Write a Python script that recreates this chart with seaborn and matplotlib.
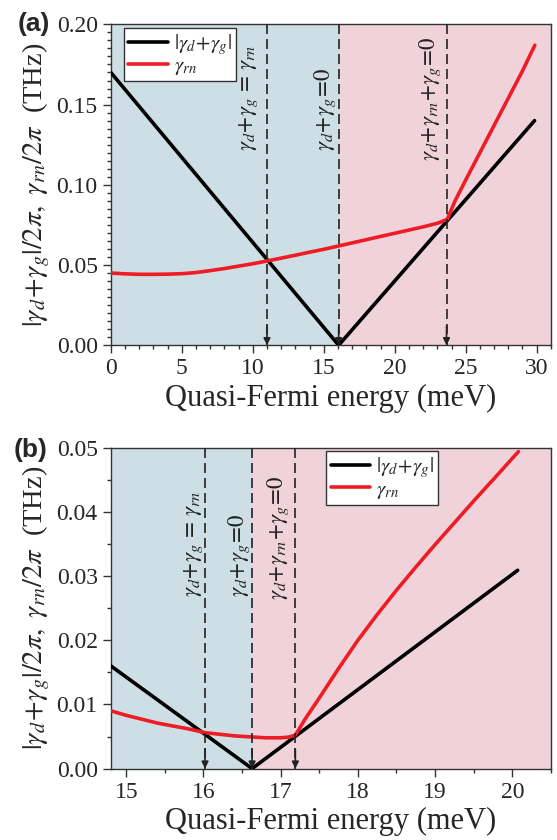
import numpy as np
import pandas as pd
import matplotlib
matplotlib.use("Agg")
import matplotlib.pyplot as plt
from matplotlib.ticker import MultipleLocator, FormatStrFormatter
import seaborn as sns

# panel (a) data
a_black_x = [0, 16.05, 29.85]
a_black_y = [0.170, 0.0, 0.140]
a_red_x = [0, 1, 2, 3, 4, 5, 6, 7, 8, 9, 10, 11, 12, 13, 14, 15, 16, 17, 18, 19, 20,
           21, 22, 23, 23.7, 24.25, 25, 26, 27, 28, 29, 29.87]
a_red_y = [0.045, 0.0445, 0.0442, 0.0442, 0.0443, 0.0446, 0.0453, 0.0465, 0.0478, 0.0493,
           0.0508, 0.0525, 0.0543, 0.0561, 0.0580, 0.0598, 0.0618, 0.0638, 0.0658, 0.0678,
           0.0698, 0.0718, 0.0738, 0.0760, 0.0785, 0.0900, 0.1030, 0.1200, 0.1370, 0.1540,
           0.1710, 0.1870]
a_lines = [11.0, 16.05, 23.65]
a_split = 16.05

# panel (b) data
b_black_x = [14.8, 16.63, 20.07]
b_black_y = [0.0160, 0.0, 0.0309]
b_red_x = [14.8, 15.0, 15.4, 15.8, 16.02, 16.4, 16.8, 17.0, 17.1, 17.19, 17.31, 17.5,
           17.75, 18.0, 18.25, 18.5, 18.75, 19.0, 19.25, 19.5, 19.75, 20.08]
b_red_y = [0.0090, 0.0083, 0.0071, 0.0062, 0.0056, 0.0051, 0.0048, 0.0048, 0.0049,
           0.0052, 0.0076, 0.0110, 0.0156, 0.0200, 0.0240, 0.0278, 0.0314, 0.0349,
           0.0383, 0.0417, 0.0450, 0.0494]
b_lines = [16.02, 16.63, 17.19]
b_split = 16.63

ann_texts = [r"$\gamma_d\!+\!\gamma_g\,=\,\gamma_{rn}$",
             r"$\gamma_d\!+\!\gamma_g\!=\!0$",
             r"$\gamma_d\!+\!\gamma_{rn}\!+\!\gamma_g\!=\!0$"]

sns.set_style("ticks")
plt.rcParams["font.family"] = ["Liberation Serif", "DejaVu Serif"]
plt.rcParams["mathtext.fontset"] = "stix"
plt.rcParams["xtick.direction"] = "out"
plt.rcParams["ytick.direction"] = "out"

blue_bg = "#cddfe5"
pink_bg = "#f0d3da"
red = "#ee1c25"

ylabel = r"$|\gamma_d\!+\!\gamma_g|/2\pi,\ \gamma_{rn}/2\pi$  (THz)"
leg_labels = [r"$|\gamma_d\!+\!\gamma_g|$", r"$\gamma_{rn}$"]

fig = plt.figure(figsize=(5.57, 8.4), dpi=100)
ax_a = fig.add_axes([0.199, 0.589, 0.790, 0.382])
ax_b = fig.add_axes([0.199, 0.085, 0.790, 0.382])


def draw_panel(ax, bx, by, rx, ry, lines, split, xlim, ylim, xmaj, xmin, ymaj,
               ann_x, ann_y, leg_anchor):
    ax.axvspan(xlim[0], split, color=blue_bg, lw=0, zorder=0)
    ax.axvspan(split, xlim[1], color=pink_bg, lw=0, zorder=0)
    sns.lineplot(x=bx, y=by, ax=ax, color="black", lw=2.6, label=leg_labels[0],
                 zorder=3)
    sns.lineplot(x=rx, y=ry, ax=ax, color=red, lw=2.6, label=leg_labels[1], zorder=4)
    for i, xv in enumerate(lines):
        ax.plot([xv, xv], [ylim[1], 0], ls=(0, (6, 3)), color="#222222", lw=1.2,
                zorder=5)
        ax.annotate("", xy=(xv, 0), xytext=(xv, ylim[1] * 0.06),
                    arrowprops=dict(arrowstyle="-|>", color="#222222", lw=1.2,
                                    mutation_scale=10, shrinkA=0, shrinkB=0),
                    zorder=6)
        ax.text(ann_x[i], ann_y[i], ann_texts[i], rotation=90, ha="center",
                va="bottom", fontsize=16.5, color="#222222", zorder=6)
    ax.set_xlim(*xlim)
    ax.set_ylim(*ylim)
    ax.xaxis.set_major_locator(MultipleLocator(xmaj))
    ax.xaxis.set_minor_locator(MultipleLocator(xmin))
    ax.yaxis.set_major_locator(MultipleLocator(ymaj))
    ax.yaxis.set_minor_locator(MultipleLocator(0.005))
    ax.yaxis.set_major_formatter(FormatStrFormatter("%.2f"))
    ax.tick_params(which="major", length=6, width=1, labelsize=17, color="#333333")
    ax.tick_params(which="minor", length=3, width=1, color="#333333")
    for s in ax.spines.values():
        s.set_color("#333333")
        s.set_linewidth(1)
    ax.set_xlabel("Quasi-Fermi energy (meV)", fontsize=22, labelpad=3)
    ax.set_ylabel(ylabel, fontsize=20.5, labelpad=3)
    leg = ax.legend(loc="upper left", bbox_to_anchor=leg_anchor, fontsize=15,
                    frameon=True, fancybox=False, edgecolor="#333333",
                    handlelength=1.9, borderpad=0.2, labelspacing=0.0,
                    handletextpad=0.3, borderaxespad=0.0)
    leg.get_frame().set_linewidth(1)
    leg.get_frame().set_facecolor("white")
    leg.get_frame().set_alpha(1)
    leg.set_zorder(10)


draw_panel(ax_a, a_black_x, a_black_y, a_red_x, a_red_y, a_lines, a_split,
           (0, 31), (0, 0.20), 5, 1, 0.05,
           [9.7, 15.1, 22.5], [0.121, 0.121, 0.115], (0.03, 0.99))

draw_panel(ax_b, b_black_x, b_black_y, b_red_x, b_red_y, b_lines, b_split,
           (14.8, 20.5), (0, 0.05), 1, 0.5, 0.01,
           [15.88, 16.46, 16.97], [0.0267, 0.0267, 0.0262], (0.49, 0.99))

fig.text(0.032, 0.986, "(a)", fontsize=19, fontweight="bold", va="top",
         family=["Liberation Sans", "DejaVu Sans"])
fig.text(0.024, 0.479, "(b)", fontsize=19, fontweight="bold", va="top",
         family=["Liberation Sans", "DejaVu Sans"])

fig.savefig("out.png", dpi=100)
